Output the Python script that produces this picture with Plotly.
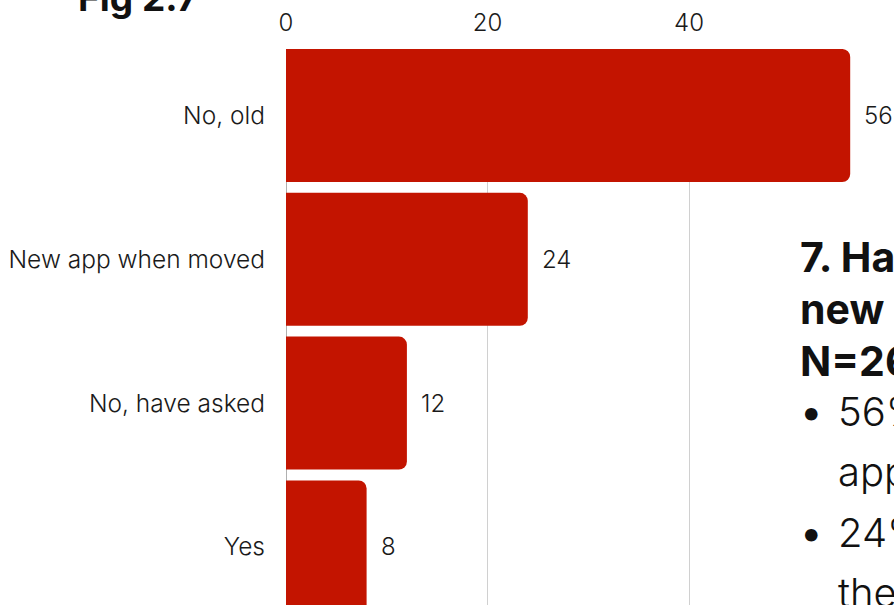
import plotly.graph_objects as go

categories = ["No, old", "New app when moved", "No, have asked", "Yes"]
values = [56, 24, 12, 8]
x_ticks = [0, 20, 40]

title_text = "Fig 2.7"
heading_lines = ["7. Have you been given a", "new app for your home?", "N=26"]
bullet_lines = [
    ("56% are still using their old", "app"),
    ("24% got a new app when", "they moved"),
]

W, H = 894, 605
ML, MT, MR, MB = 286, 49, 0, 0
PW, PH = W - ML - MR, H - MT - MB
FONT = "Inter"
RED = "#C31400"
TXT = "#1a1a1a"


def px_x(p):
    return (p - ML) / PW


def px_y(p):
    return (H - MB - p) / PH


ypos = list(range(len(categories)))

fig = go.Figure()
fig.add_trace(go.Bar(
    x=values, y=ypos, orientation="h",
    marker=dict(color=RED, line=dict(width=0)),
    hoverinfo="skip",
))

annotations = []
for v, y in zip(values, ypos):
    annotations.append(dict(
        x=v, y=y, xref="x", yref="y", text=str(v), showarrow=False,
        xanchor="left", yanchor="middle", xshift=12,
        font=dict(family=FONT, size=24, color=TXT, weight=300),
    ))

annotations.append(dict(
    x=px_x(76), y=px_y(-2), xref="paper", yref="paper", text="<b>%s</b>" % title_text,
    showarrow=False, xanchor="left", yanchor="middle",
    font=dict(family=FONT, size=37, color="#111111"),
))

for i, line in enumerate(heading_lines):
    annotations.append(dict(
        x=px_x(798), y=px_y(257 + 52 * i), xref="paper", yref="paper",
        text="<b>%s</b>" % line, showarrow=False, xanchor="left", yanchor="middle",
        font=dict(family=FONT, size=41, color="#111111"),
    ))

for j, (l1, l2) in enumerate(bullet_lines):
    yc = 412 + 120 * j
    annotations.append(dict(
        x=px_x(798), y=px_y(yc), xref="paper", yref="paper", text="•",
        showarrow=False, xanchor="left", yanchor="middle",
        font=dict(family=FONT, size=40, color="#111111"),
    ))
    annotations.append(dict(
        x=px_x(836), y=px_y(yc), xref="paper", yref="paper", text=l1,
        showarrow=False, xanchor="left", yanchor="middle",
        font=dict(family=FONT, size=40, color="#111111", weight=300),
    ))
    annotations.append(dict(
        x=px_x(836), y=px_y(yc + 60), xref="paper", yref="paper", text=l2,
        showarrow=False, xanchor="left", yanchor="middle",
        font=dict(family=FONT, size=40, color="#111111", weight=300),
    ))

fig.update_layout(
    width=W, height=H,
    margin=dict(l=ML, r=MR, t=MT, b=MB, pad=0),
    paper_bgcolor="white", plot_bgcolor="white",
    showlegend=False,
    bargap=0.075,
    barcornerradius=8,
    annotations=annotations,
    font=dict(family=FONT, size=24, color=TXT),
)
fig.update_xaxes(
    side="top", range=[0, PW / 10.075], tickvals=x_ticks,
    showgrid=True, gridcolor="#d0d0d0", gridwidth=1,
    zeroline=True, zerolinecolor="#b0b0b0", zerolinewidth=1,
    showline=False, ticks="", ticklabelstandoff=12,
    tickfont=dict(family=FONT, size=24, color=TXT, weight=300),
)
fig.update_yaxes(
    range=[(H - MB - 115.5) / 143.8, (MT - 115.5) / 143.8],
    tickvals=ypos, ticktext=categories,
    showgrid=False, zeroline=False, showline=False, ticks="",
    ticklabelstandoff=20,
    tickfont=dict(family=FONT, size=24.5, color=TXT, weight=300),
)

fig.write_html("out.html", config={"displayModeBar": False},
               post_script="document.body.style.margin='0';")
